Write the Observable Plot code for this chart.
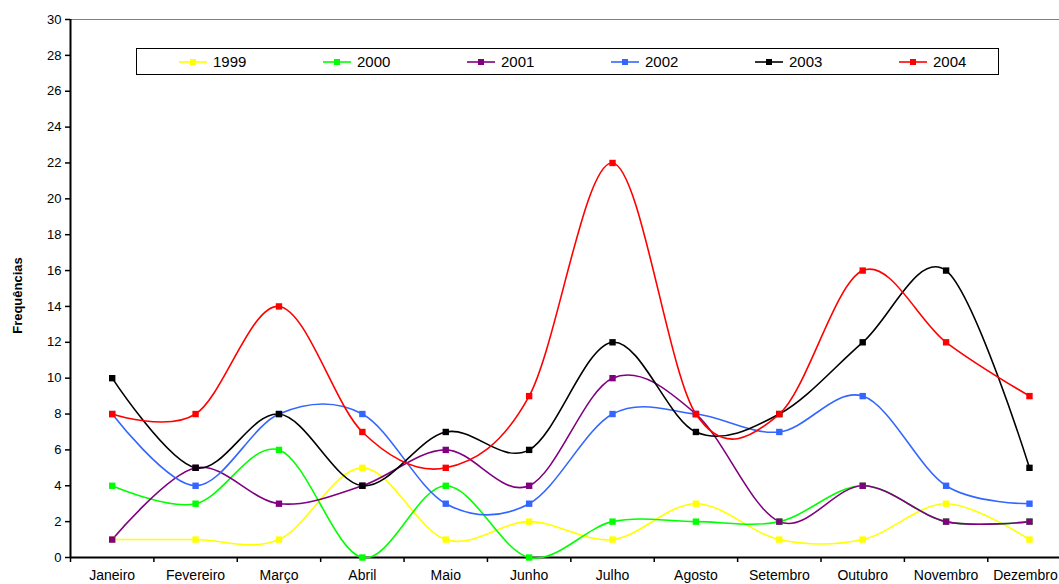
<!DOCTYPE html>
<html>
<head>
<meta charset="utf-8">
<script src="https://cdn.jsdelivr.net/npm/d3@7"></script>
<script src="https://cdn.jsdelivr.net/npm/@observablehq/plot@0.6"></script>
<style>
  html, body { margin: 0; padding: 0; background: #fff; overflow: hidden; }
  #wrap { position: relative; width: 1059px; height: 584px; font-family: "Liberation Sans", Arial, sans-serif; }
  #legend { position: absolute; left: 136px; top: 48px; width: 863px; height: 27px; border: 1px solid #000; background: #fff; box-sizing: border-box; }
  .item { position: absolute; top: 0; height: 25px; display: flex; align-items: center; font-size: 15px; color: #000; }
  .item svg { margin-right: 6px; }
</style>
</head>
<body>
<div id="wrap"><div id="chart"></div><div id="legend"></div></div>
<script>
const months = ["Janeiro","Fevereiro","Março","Abril","Maio","Junho","Julho","Agosto","Setembro","Outubro","Novembro","Dezembro"];
const years = ["1999","2000","2001","2002","2003","2004"];
const colors = ["#FFFF00","#00FF00","#800080","#3366FF","#000000","#FF0000"];
const v1999 = [1,1,1,5,1,2,1,3,1,1,3,1];
const v2000 = [4,3,6,0,4,0,2,2,2,4,2,2];
const v2001 = [1,5,3,4,6,4,10,8,2,4,2,2];
const v2002 = [8,4,8,8,3,3,8,8,7,9,4,3];
const v2003 = [10,5,8,4,7,6,12,7,8,12,16,5];
const v2004 = [8,8,14,7,5,9,22,8,8,16,12,9];
const yTicks = d3.range(0, 31, 2);

const seriesVals = [v1999, v2000, v2001, v2002, v2003, v2004];
const data = [];
seriesVals.forEach((vals, s) => vals.forEach((v, i) => data.push({year: years[s], i, v})));

const chart = Plot.plot({
  width: 1059,
  height: 584,
  marginLeft: 70,
  marginRight: 0,
  marginTop: 19,
  marginBottom: 27,
  style: {fontFamily: "'Liberation Sans', Arial, sans-serif", fontSize: "13px", overflow: "visible", background: "#fff"},
  x: {type: "linear", domain: [-0.5, 11.36], axis: null},
  y: {domain: [0, 30], axis: null},
  color: {domain: years, range: colors},
  marks: [
    Plot.ruleY([30], {stroke: "#808080", strokeWidth: 1}),
    Plot.axisY({ticks: yTicks, tickSize: 5, tickPadding: 4, label: null, fontSize: 13, stroke: "#000", strokeWidth: 1.5}),
    Plot.axisX({ticks: d3.range(-0.5, 11, 1), tickSize: 5, tickFormat: () => "", label: null, stroke: "#000", strokeWidth: 1.5}),
    Plot.axisX({ticks: d3.range(0, 11), tickSize: 0, tickPadding: 13, tickFormat: i => months[i], label: null, fontSize: 14}),
    Plot.axisX({ticks: [11], tickSize: 0, tickPadding: 13, tickFormat: i => months[i], label: null, fontSize: 14, dx: -4}),
    Plot.ruleX([-0.5], {y1: 0, y2: 30, stroke: "#000", strokeWidth: 2}),
    Plot.ruleY([0], {stroke: "#000", strokeWidth: 2}),
    Plot.text(["Frequências"], {frameAnchor: "left", textAnchor: "middle", dx: -53, dy: 7, rotate: -90, fontWeight: "bold", fontSize: 13, fill: "#000"}),
    Plot.line(data, {x: "i", y: "v", z: "year", stroke: "year", strokeWidth: 1.6, curve: "cardinal", tension: 0}),
    Plot.dot(data, {x: "i", y: "v", fill: "year", symbol: "square", r: 3.6, stroke: "none"})
  ]
});
document.getElementById("chart").appendChild(chart);

const legend = document.getElementById("legend");
years.forEach((y, k) => {
  const it = document.createElement("div");
  it.className = "item";
  it.style.left = (42 + k * 144) + "px";
  it.innerHTML = `<svg width="28" height="10"><line x1="0" x2="28" y1="5" y2="5" stroke="${colors[k]}" stroke-width="1.6"/><rect x="11" y="2" width="6" height="6" fill="${colors[k]}"/></svg><span>${y}</span>`;
  legend.appendChild(it);
});
</script>
</body>
</html>
